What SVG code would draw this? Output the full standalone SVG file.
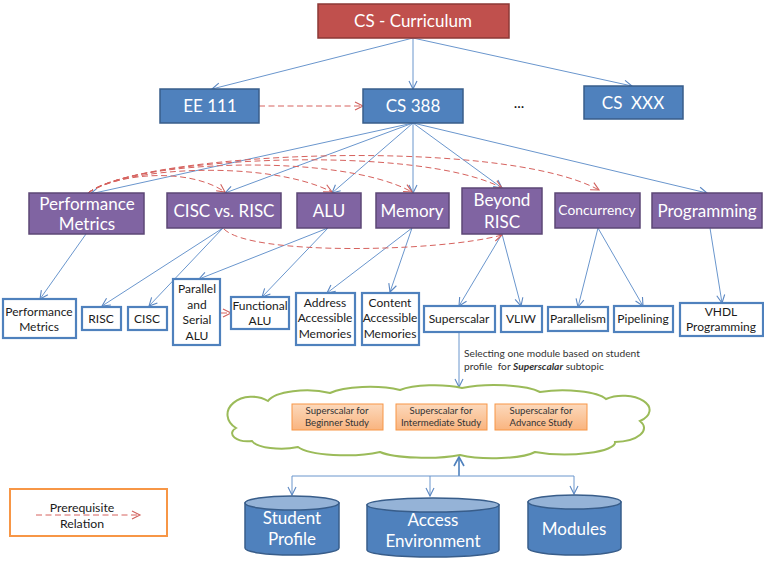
<svg xmlns="http://www.w3.org/2000/svg" width="764" height="561" viewBox="0 0 764 561">
  <defs>
    <marker id="arrBlue" markerUnits="userSpaceOnUse" markerWidth="12" markerHeight="12" refX="9" refY="5" orient="auto">
      <path d="M1,1 L9,5 L1,9" fill="none" stroke="#5B87C2" stroke-width="1.1"/>
    </marker>
    <marker id="arrRed" markerUnits="userSpaceOnUse" markerWidth="12" markerHeight="12" refX="9" refY="5" orient="auto">
      <path d="M1,1 L9,5 L1,9" fill="none" stroke="#D0605C" stroke-width="1.1"/>
    </marker>
    <marker id="arrBlueBold" markerUnits="userSpaceOnUse" markerWidth="14" markerHeight="14" refX="10" refY="6" orient="auto">
      <path d="M1,1 L10,6 L1,11" fill="none" stroke="#4F81BD" stroke-width="1.6"/>
    </marker>
    <linearGradient id="orangeFill" x1="0" y1="0" x2="0" y2="1">
      <stop offset="0" stop-color="#FCD9BC"/>
      <stop offset="1" stop-color="#F9B47F"/>
    </linearGradient>
  </defs>
  <style>
    text { font-family: Lato, "Open Sans", "Liberation Sans", sans-serif; text-anchor: middle; white-space: pre; }
    .red rect { fill: #C0504D; stroke: #8C3836; stroke-width: 1.5; }
    .blue rect { fill: #4F81BD; stroke: #385D8A; stroke-width: 1.5; }
    .purple rect { fill: #8064A2; stroke: #5C4776; stroke-width: 1.5; }
    .leaf rect { fill: #FFFFFF; stroke: #4F81BD; stroke-width: 2.2; }
    .opt rect { fill: url(#orangeFill); stroke: #F79646; stroke-width: 1; }
    .big { fill: #FFFFFF; font-size: 17px; }
    .leafT { fill: #1A1A1A; font-size: 12px; }
    .optT { fill: #333333; font-size: 9.6px; }
    .note { fill: #333333; font-size: 10.2px; text-anchor: start; }
    .tree { fill: none; stroke: #6A96CD; stroke-width: 1; marker-end: url(#arrBlue); }
    .pre { fill: none; stroke: #D6625E; stroke-width: 1; stroke-dasharray: 6 3.5; marker-end: url(#arrRed); }
    .cyl .body { fill: #4F81BD; stroke: #385D8A; stroke-width: 1.5; }
    .cyl .lid { fill: #95B3D7; stroke: #385D8A; stroke-width: 1.5; }
  </style>

  <!-- connectors -->
  <g id="connectors">
    <!-- curriculum to courses -->
    <path class="tree" d="M413,38 L212,89"/>
    <path class="tree" d="M413,38 L413,89"/>
    <path class="tree" d="M413,38 L632,86"/>
    <!-- CS 388 to topics -->
    <path class="tree" d="M413,123 L90,194"/>
    <path class="tree" d="M413,123 L225,193"/>
    <path class="tree" d="M413,123 L332,193"/>
    <path class="tree" d="M413,123 L413,193"/>
    <path class="tree" d="M413,123 L502,188"/>
    <path class="tree" d="M413,123 L707,193"/>
    <!-- topics to subtopics -->
    <path class="tree" d="M86,234 L40,299"/>
    <path class="tree" d="M223,228 L102,306"/>
    <path class="tree" d="M223,228 L149,306"/>
    <path class="tree" d="M328,228 L199,279"/>
    <path class="tree" d="M328,228 L262,297"/>
    <path class="tree" d="M412,228 L327,293"/>
    <path class="tree" d="M412,228 L390,292"/>
    <path class="tree" d="M502,234 L459,306"/>
    <path class="tree" d="M502,234 L521,306"/>
    <path class="tree" d="M598,228 L578,307"/>
    <path class="tree" d="M598,228 L643,306"/>
    <path class="tree" d="M710,228 L722,303"/>
    <!-- selection into the module cloud -->
    <path class="tree" d="M459,332 L459,387"/>
    <!-- data sources -->
    <path d="M459,476 L459,457" fill="none" stroke="#4F81BD" stroke-width="1.6" marker-end="url(#arrBlueBold)"/>
    <path d="M292,476 L574,476" fill="none" stroke="#6A96CD" stroke-width="1"/>
    <path class="tree" d="M292,476 L292,495"/>
    <path class="tree" d="M430,476 L430,496"/>
    <path class="tree" d="M574,476 L574,494"/>
    <!-- prerequisite relations -->
    <path class="pre" d="M259,106 L363,106"/>
    <path class="pre" d="M88,193 C120,172 190,168 225,192"/>
    <path class="pre" d="M88,193 C125,166 270,160 332,192"/>
    <path class="pre" d="M88,193 C130,160 340,152 412,192"/>
    <path class="pre" d="M88,193 C135,156 420,144 502,188"/>
    <path class="pre" d="M88,193 C140,152 500,136 599,190"/>
    <path class="pre" d="M224,229 C250,256 440,252 502,235"/>
    <path class="pre" d="M221,313 L231,313"/>
  </g>

  <!-- curriculum and courses -->
  <g id="cs-curriculum" class="red">
    <rect x="318" y="4" width="191" height="34"/>
    <text class="big" x="413" y="27">CS - Curriculum</text>
  </g>
  <g id="ee111" class="blue">
    <rect x="160" y="89" width="99" height="34"/>
    <text class="big" x="210" y="112">EE 111</text>
  </g>
  <g id="cs388" class="blue">
    <rect x="363" y="89" width="100" height="34"/>
    <text class="big" x="413" y="112">CS 388</text>
  </g>
  <g id="ellipsis">
    <text x="519" y="108" font-size="15" fill="#111111">...</text>
  </g>
  <g id="csxxx" class="blue">
    <rect x="584" y="86" width="99" height="33"/>
    <text class="big" x="633" y="109">CS  XXX</text>
  </g>

  <!-- topics -->
  <g id="t-performance" class="purple">
    <rect x="29" y="193" width="115" height="41"/>
    <text class="big" x="87" y="210">Performance</text>
    <text class="big" x="87" y="230">Metrics</text>
  </g>
  <g id="t-cisc-risc" class="purple">
    <rect x="167" y="193" width="114" height="35"/>
    <text class="big" x="224" y="217">CISC vs. RISC</text>
  </g>
  <g id="t-alu" class="purple">
    <rect x="297" y="193" width="64" height="35"/>
    <text class="big" x="329" y="217">ALU</text>
  </g>
  <g id="t-memory" class="purple">
    <rect x="376" y="193" width="73" height="35"/>
    <text class="big" x="412" y="217">Memory</text>
  </g>
  <g id="t-beyond-risc" class="purple">
    <rect x="462" y="188" width="80" height="46"/>
    <text class="big" x="502" y="206">Beyond</text>
    <text class="big" x="502" y="228">RISC</text>
  </g>
  <g id="t-concurrency" class="purple">
    <rect x="555" y="193" width="85" height="35"/>
    <text x="597" y="215" font-size="13.8" fill="#FFFFFF">Concurrency</text>
  </g>
  <g id="t-programming" class="purple">
    <rect x="652" y="193" width="110" height="35"/>
    <text class="big" x="707" y="217">Programming</text>
  </g>

  <!-- subtopics -->
  <g id="s-performance" class="leaf">
    <rect x="3" y="299" width="73" height="39"/>
    <text class="leafT" x="39" y="316">Performance</text>
    <text class="leafT" x="39" y="331">Metrics</text>
  </g>
  <g id="s-risc" class="leaf">
    <rect x="82" y="307" width="39" height="23"/>
    <text class="leafT" x="101" y="323">RISC</text>
  </g>
  <g id="s-cisc" class="leaf">
    <rect x="128" y="307" width="39" height="23"/>
    <text class="leafT" x="147" y="323">CISC</text>
  </g>
  <g id="s-parallel-alu" class="leaf">
    <rect x="173" y="279" width="47" height="66"/>
    <text class="leafT" x="197" y="293">Parallel</text>
    <text class="leafT" x="197" y="309">and</text>
    <text class="leafT" x="197" y="324">Serial</text>
    <text class="leafT" x="197" y="340">ALU</text>
  </g>
  <g id="s-functional-alu" class="leaf">
    <rect x="231" y="297" width="58" height="32"/>
    <text class="leafT" x="260" y="310">Functional</text>
    <text class="leafT" x="260" y="325">ALU</text>
  </g>
  <g id="s-address-mem" class="leaf">
    <rect x="296" y="293" width="59" height="52"/>
    <text class="leafT" x="325" y="307">Address</text>
    <text class="leafT" x="325" y="322">Accessible</text>
    <text class="leafT" x="325" y="338">Memories</text>
  </g>
  <g id="s-content-mem" class="leaf">
    <rect x="362" y="293" width="57" height="52"/>
    <text class="leafT" x="390" y="307">Content</text>
    <text class="leafT" x="390" y="322">Accessible</text>
    <text class="leafT" x="390" y="338">Memories</text>
  </g>
  <g id="s-superscalar" class="leaf">
    <rect x="424" y="306" width="71" height="26"/>
    <text class="leafT" x="459" y="323">Superscalar</text>
  </g>
  <g id="s-vliw" class="leaf">
    <rect x="501" y="306" width="41" height="26"/>
    <text class="leafT" x="521" y="323">VLIW</text>
  </g>
  <g id="s-parallelism" class="leaf">
    <rect x="548" y="307" width="60" height="24"/>
    <text class="leafT" x="578" y="323">Parallelism</text>
  </g>
  <g id="s-pipelining" class="leaf">
    <rect x="614" y="306" width="59" height="26"/>
    <text class="leafT" x="643" y="323">Pipelining</text>
  </g>
  <g id="s-vhdl" class="leaf">
    <rect x="680" y="303" width="83" height="33"/>
    <text class="leafT" x="721" y="316">VHDL</text>
    <text class="leafT" x="721" y="331">Programming</text>
  </g>

  <!-- selection note -->
  <g id="selection-note">
    <text class="note" x="464" y="357">Selecting one module based on student</text>
    <text class="note" x="464" y="370">profile  for <tspan font-weight="bold" font-style="italic">Superscalar</tspan> subtopic</text>
  </g>

  <!-- module cloud -->
  <g id="module-cloud">
    <path d="M236,428 A22,16 0 0 1 268,401 A40,14 0 0 1 330,393 A45,12 0 0 1 400,390 A40,10 0 0 1 462,388 A50,12 0 0 1 540,392 A45,12 0 0 1 606,399 A26,14 0 0 1 640,421 A30,14 0 0 1 615,442 A50,12 0 0 1 535,452 A45,10 0 0 1 460,455 A50,10 0 0 1 380,452 A50,12 0 0 1 298,447 A30,10 0 0 1 252,441 A16,8 0 0 1 236,428 Z" fill="#FFFFFF" stroke="#9BBB59" stroke-width="2"/>
  </g>
  <g id="m-beginner" class="opt">
    <rect x="292" y="404" width="91" height="26"/>
    <text class="optT" x="337" y="414">Superscalar for</text>
    <text class="optT" x="337" y="426">Beginner Study</text>
  </g>
  <g id="m-intermediate" class="opt">
    <rect x="396" y="404" width="91" height="26"/>
    <text class="optT" x="441" y="414">Superscalar for</text>
    <text class="optT" x="441" y="426">Intermediate Study</text>
  </g>
  <g id="m-advance" class="opt">
    <rect x="495" y="404" width="92" height="26"/>
    <text class="optT" x="541" y="414">Superscalar for</text>
    <text class="optT" x="541" y="426">Advance Study</text>
  </g>

  <!-- data stores -->
  <g id="db-student" class="cyl">
    <path class="body" d="M245,503 L245,548 A47,7 0 0 0 339,548 L339,503 Z"/>
    <ellipse class="lid" cx="292" cy="503" rx="47" ry="7"/>
    <text class="big" x="292" y="524">Student</text>
    <text class="big" x="292" y="545">Profile</text>
  </g>
  <g id="db-access" class="cyl">
    <path class="body" d="M367,505 L367,550 A66,7 0 0 0 499,550 L499,505 Z"/>
    <ellipse class="lid" cx="433" cy="505" rx="66" ry="7"/>
    <text class="big" x="433" y="526">Access</text>
    <text class="big" x="433" y="547">Environment</text>
  </g>
  <g id="db-modules" class="cyl">
    <path class="body" d="M528,502 L528,548 A46.5,7 0 0 0 621,548 L621,502 Z"/>
    <ellipse class="lid" cx="574.5" cy="502" rx="46.5" ry="7"/>
    <text class="big" x="574" y="535">Modules</text>
  </g>

  <!-- legend -->
  <g id="legend">
    <rect x="10" y="489" width="157" height="47" fill="#FFFFFF" stroke="#F79646" stroke-width="2"/>
    <path class="pre" d="M36,515 L140,515"/>
    <text x="82" y="512" font-size="12.3" fill="#1A1A1A">Prerequisite</text>
    <text x="82" y="528" font-size="12.3" fill="#1A1A1A">Relation</text>
  </g>
</svg>
